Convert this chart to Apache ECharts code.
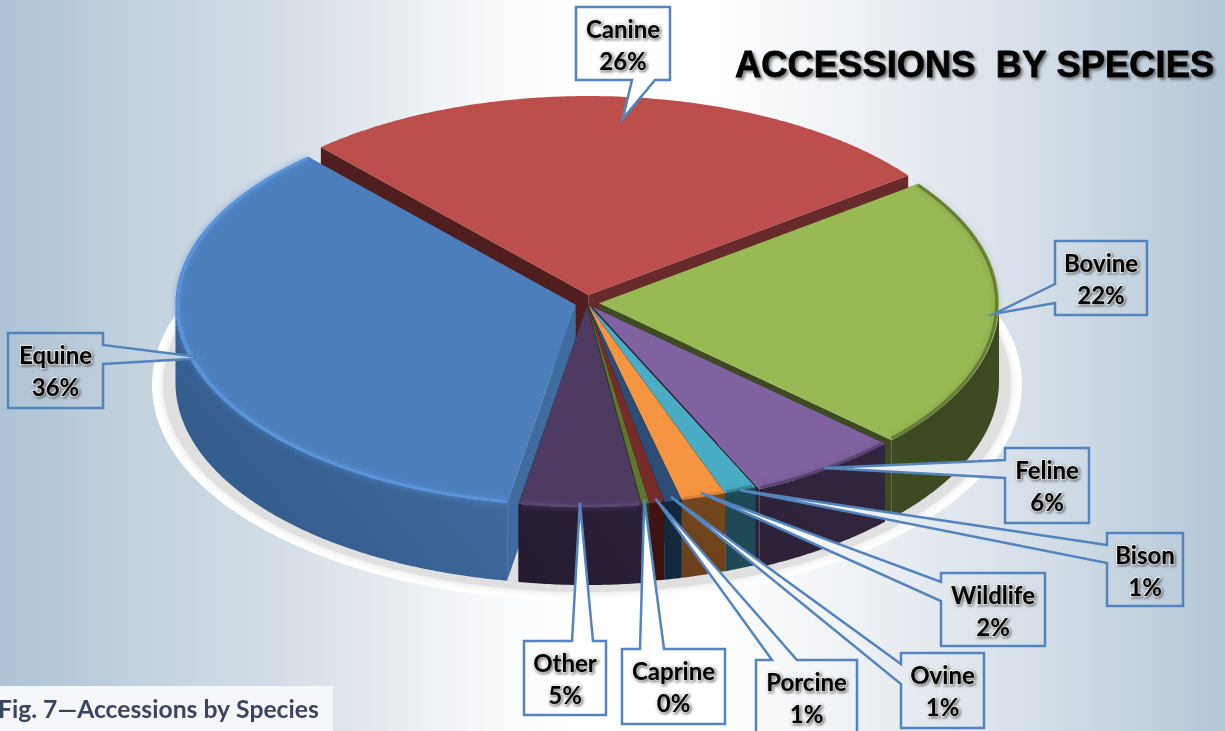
<!DOCTYPE html>
<html>
<head>
<meta charset="utf-8">
<title>Accessions by Species</title>
<style>html,body{margin:0;padding:0;background:#fff}#chart{width:1225px;height:731px}</style>
<script src="https://cdn.jsdelivr.net/npm/echarts@6/dist/echarts.min.js"></script>
</head>
<body>
<div id="chart"></div>
<script>
// Share of accessions per species, clockwise from the Canine slice
const species = ['Canine', 'Bovine', 'Feline', 'Bison', 'Wildlife', 'Ovine', 'Porcine', 'Caprine', 'Other', 'Equine'];
const shares = [26.4, 22.2, 6.2, 1.3, 1.8, 0.7, 0.6, 0.3, 4.9, 35.6];

// Slice colours: top face, outer wall (light to dark), radial walls, rim
const topColors = ['#BC4E4C', '#98B954', '#8062A0', '#4AACC5', '#F59441', '#2C4D75', '#772C2A', '#5F7530', '#4D3B62', '#4C7EBB'];
const wallLight = ['#5A2020', '#3E4A22', '#33263F', '#1F4A55', '#74481F', '#12293D', '#3F1412', '#2F3A18', '#2A1F38', '#4672A8'];
const wallDark = ['#5A2020', '#3E4A22', '#2E2239', '#1F4A55', '#6A3F1A', '#12293D', '#3C1210', '#2F3A18', '#251B30', '#2F5684'];
const edgeStart = ['#501E1E', '#3E4A22', '#2E2239', '#1F4A55', '#6A3F1A', '#12293D', '#3C1210', '#2F3A18', '#251B30', '#3F6C9F'];
const edgeEnd = ['#682A2A', '#3E4A22', '#2E2239', '#1F4A55', '#6A3F1A', '#12293D', '#3C1210', '#2F3A18', '#251B30', '#3F6C9F'];
const rimColors = ['rgba(188,78,76,0)', 'rgba(62,74,34,0.5)', 'rgba(60,44,78,0.5)', 'rgba(40,100,120,0.5)', 'rgba(180,110,50,0.4)', 'rgba(50,90,130,0.3)', 'rgba(130,50,48,0.3)', 'rgba(110,140,60,0.3)', '#5A4672', '#5A94DA'];

// How far each slice is pulled out of the pie
const explode = [16, 12, 9, 3, 3, 3, 3, 3, 6, 12];

// Pie projection; the near half of the ellipse is a little deeper than the far half
const pie = { cx: 587, cy: 303, rx: 400, ryBack: 199, ryFront: 201, depth: 78, startAngle: -42 };

// Callout boxes and where each leader leaves its box
const callouts = {
  Canine: { box: [576, 7, 670, 80], side: 'bottom', base: [632, 655], reach: 0.89 },
  Bovine: { box: [1055, 241, 1147, 315], side: 'left', base: [284, 303], reach: 0.99 },
  Feline: { box: [1005, 448, 1089, 523], side: 'left', base: [460, 478], reach: 0.99 },
  Bison: { box: [1107, 533, 1183, 606], side: 'left', base: [545, 563], reach: 1.0 },
  Wildlife: { box: [941, 573, 1045, 646], side: 'left', base: [582, 601], reach: 0.98 },
  Ovine: { box: [901, 653, 984, 728], side: 'left', base: [664, 684], reach: 0.98 },
  Porcine: { box: [756, 660, 857, 734], side: 'top', base: [772, 797], reach: 0.98 },
  Caprine: { box: [622, 649, 725, 724], side: 'top', base: [640, 664], reach: 0.98 },
  Other: { box: [524, 641, 606, 715], side: 'top', base: [572, 593], reach: 0.98 },
  Equine: { box: [8, 333, 103, 408], side: 'right', base: [345, 364], reach: 0.96 }
};

const backdropStops = [
  { offset: 0, color: '#AEC3D5' }, { offset: 0.12, color: '#C3D2DF' },
  { offset: 0.25, color: '#D8E0E8' }, { offset: 0.4, color: '#F8F9FB' },
  { offset: 0.47, color: '#FFFFFF' }, { offset: 0.58, color: '#FFFFFF' },
  { offset: 0.7, color: '#EEF1F5' }, { offset: 0.85, color: '#D4DEE8' },
  { offset: 1, color: '#B4C7D7' }
];

// Angular extent of every slice, derived from the shares
const total = shares.reduce((a, b) => a + b, 0);
let running = pie.startAngle;
const slices = shares.map((v, i) => {
  const start = running;
  const sweep = v / total * 360;
  running += sweep;
  const mid = start + sweep / 2;
  const rad = mid * Math.PI / 180;
  return {
    start, end: start + sweep, mid,
    ox: pie.cx + explode[i] * Math.sin(rad),
    oy: pie.cy - explode[i] * 0.5 * Math.cos(rad)
  };
});

// Back slices paint first, front slices last
const paintRank = slices
  .map((s, i) => ({ i, d: Math.abs(((s.mid % 360) + 360) % 360 - 180) }))
  .sort((a, b) => b.d - a.d)
  .reduce((acc, e, rank) => { acc[e.i] = rank; return acc; }, {});

function onEllipse(s, deg, f) {
  const r = deg * Math.PI / 180;
  const c = Math.cos(r);
  return [s.ox + f * pie.rx * Math.sin(r), s.oy - f * (c >= 0 ? pie.ryBack : pie.ryFront) * c];
}
function arcPoints(s, from, to, f) {
  const n = Math.max(2, Math.ceil((to - from) * 2));
  const pts = [];
  for (let k = 0; k <= n; k++) pts.push(onEllipse(s, from + (to - from) * k / n, f));
  return pts;
}
const drop = (p) => [p[0], p[1] + pie.depth];

function sliceElements(i) {
  const s = slices[i];
  const z = 10 + paintRank[i] * 10;
  const els = [];
  const apex = [s.ox, s.oy];
  const a = onEllipse(s, s.start, 1);
  const b = onEllipse(s, s.end, 1);

  // Radial walls
  els.push({ type: 'polygon', z2: z, shape: { points: [apex, a, drop(a), drop(apex)] }, style: { fill: edgeStart[i] } });
  els.push({ type: 'polygon', z2: z, shape: { points: [apex, b, drop(b), drop(apex)] }, style: { fill: edgeEnd[i] } });

  // Outer wall, only where the rim faces the viewer
  const visFrom = Math.max(s.start, 90);
  const visTo = Math.min(s.end, 270);
  if (visTo > visFrom) {
    const upper = arcPoints(s, visFrom, visTo, 1);
    const lower = upper.map(drop).reverse();
    els.push({
      type: 'polygon', z2: z + 1, shape: { points: upper.concat(lower) },
      style: {
        fill: new echarts.graphic.LinearGradient(1, 0, 0, 1, [
          { offset: 0, color: wallLight[i] }, { offset: 1, color: wallDark[i] }
        ])
      }
    });
  }

  // Top face
  els.push({
    type: 'polygon', z2: z + 2,
    shape: { points: [apex].concat(arcPoints(s, s.start, s.end, 1)) },
    style: { fill: topColors[i] }
  });

  // Soft bevel along the rim
  els.push({
    type: 'polyline', z2: z + 3,
    shape: { points: arcPoints(s, s.start + 0.3, s.end - 0.3, 0.994) },
    style: { fill: 'none', stroke: rimColors[i], lineWidth: 3, shadowBlur: 6, shadowColor: rimColors[i] }
  });
  return els;
}

function calloutElements(i) {
  const name = species[i];
  const c = callouts[name];
  const s = slices[i];
  const [x0, y0, x1, y1] = c.box;
  const tip = onEllipse(s, s.mid, c.reach);
  let pts;
  if (c.side === 'left') {
    pts = [[x0, y0], [x1, y0], [x1, y1], [x0, y1], [x0, c.base[1]], tip, [x0, c.base[0]]];
  } else if (c.side === 'right') {
    pts = [[x0, y0], [x1, y0], [x1, c.base[0]], tip, [x1, c.base[1]], [x1, y1], [x0, y1]];
  } else if (c.side === 'top') {
    pts = [[x0, y0], [c.base[0], y0], tip, [c.base[1], y0], [x1, y0], [x1, y1], [x0, y1]];
  } else {
    pts = [[x0, y0], [x1, y0], [x1, y1], [c.base[1], y1], tip, [c.base[0], y1], [x0, y1]];
  }
  const labelStyle = (text, y) => ({
    text, x: (x0 + x1) / 2, y,
    font: 'bold 24px Lato, "Open Sans", sans-serif',
    align: 'center', verticalAlign: 'middle', fill: '#000',
    stroke: 'rgba(255,255,255,0.85)', lineWidth: 2.5,
    textShadowColor: 'rgba(0,0,0,0.45)', textShadowBlur: 3, textShadowOffsetX: 1, textShadowOffsetY: 1
  });
  return [
    {
      type: 'polygon', z2: 300, shape: { points: pts },
      style: {
        fill: new echarts.graphic.LinearGradient(0, 0, 1225, 0, backdropStops, true),
        stroke: '#5384BE', lineWidth: 2.5, lineJoin: 'miter'
      }
    },
    { type: 'text', z2: 301, style: labelStyle(name, y0 + 23) },
    { type: 'text', z2: 301, style: labelStyle(Math.round(shares[i] / total * 100) + '%', y0 + 55) }
  ];
}

const chart = echarts.init(document.getElementById('chart'), null, { renderer: 'canvas' });
chart.setOption({
  animation: false,
  backgroundColor: new echarts.graphic.LinearGradient(0, 0, 1, 0, backdropStops),
  title: {
    text: 'ACCESSIONS  BY SPECIES', left: 730, top: 44,
    textStyle: {
      fontFamily: '"Liberation Sans", Arial, sans-serif', fontWeight: 'bold', fontSize: 36.4, color: '#000',
      textBorderColor: '#000', textBorderWidth: 0.8,
      textShadowColor: 'rgba(70,70,70,0.7)', textShadowBlur: 3, textShadowOffsetX: 2, textShadowOffsetY: 2
    }
  },
  graphic: [
    { type: 'rect', left: 0, top: 686, shape: { width: 333, height: 45 }, style: { fill: '#F5F7FA' }, z: 5 },
    {
      type: 'text', left: -2, top: 698, z: 6,
      style: { text: 'Fig. 7\u2014Accessions by Species', font: 'bold 24.7px Lato, "Open Sans", sans-serif', fill: '#3B4560' }
    }
  ],
  series: [
    {
      // Cast shadow under the pie: a pale ring with a grey inner band
      type: 'custom', coordinateSystem: 'none', silent: true, z: 1,
      data: [0],
      renderItem: () => ({
        type: 'group',
        children: [
          { type: 'ellipse', z2: 1, shape: { cx: 587, cy: 385, rx: 435, ry: 216 }, style: { fill: '#FFFFFF' } },
          { type: 'ellipse', z2: 2, shape: { cx: 587, cy: 384, rx: 424, ry: 208 }, style: { fill: '#E0E0E0', shadowBlur: 8, shadowColor: '#E0E0E0' } }
        ]
      })
    },
    {
      type: 'custom', coordinateSystem: 'none', silent: true, z: 2,
      data: species.map((name, i) => ({ name, value: shares[i] })),
      renderItem: (params) => ({ type: 'group', children: sliceElements(params.dataIndex) })
    },
    {
      type: 'custom', coordinateSystem: 'none', silent: true, z: 3,
      data: species.map((name, i) => ({ name, value: shares[i] })),
      renderItem: (params) => ({ type: 'group', children: calloutElements(params.dataIndex) })
    }
  ]
});
</script>
</body>
</html>
